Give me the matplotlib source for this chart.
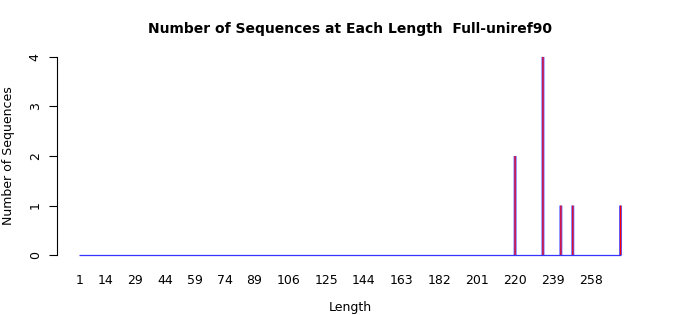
import numpy as np
import matplotlib
matplotlib.use("Agg")
import matplotlib.pyplot as plt

# sequence lengths shown on the x axis (one bar per length)
lengths = np.arange(1, 274)

# lengths that actually have sequences, and how many
hit_lengths = [220, 234, 243, 249, 273]
hit_counts = [2, 4, 1, 1, 1]

tick_labels = [1, 14, 29, 44, 59, 74, 89, 106, 125, 144, 163, 182, 201, 220, 239, 258]

counts = np.zeros(len(lengths))
for l, c in zip(hit_lengths, hit_counts):
    counts[l - 1] = c

bar_w = 0.83

fig = plt.figure(figsize=(7, 3.15), dpi=100)
ax = fig.add_axes([57 / 700, 1 - 263 / 315, (643 - 57) / 700, (263 - 49) / 315])

# empty bars in R show up as a flat blue line along zero
ax.hlines(0, lengths[0] - bar_w / 2, lengths[-1] + bar_w / 2, color="#3535ff", linewidth=0.9)
# blue border, then the red fill on top
ax.bar(lengths, counts, width=1.5, color="#5a5aff", linewidth=0, snap=False)
ax.bar(lengths, counts, width=0.6, color="red", linewidth=0, snap=False)

ax.set_xlim(-10.3, 284.3)
ax.set_ylim(-0.16, 4.16)

for s in ["top", "right", "bottom"]:
    ax.spines[s].set_visible(False)
ax.spines["left"].set_bounds(0, 4)
ax.spines["left"].set_linewidth(0.8)

ax.set_yticks(range(5))
ax.set_yticklabels([str(i) for i in range(5)], rotation=90, va="center", fontsize=9)
ax.tick_params(axis="y", length=6, width=0.8, pad=5)

ax.set_xticks(tick_labels)
ax.set_xticklabels([str(t) for t in tick_labels], fontsize=9)
ax.tick_params(axis="x", length=0, pad=8)

ax.set_xlabel("Length", fontsize=9, labelpad=10)
ax.set_ylabel("Number of Sequences", fontsize=9, labelpad=10)
fig.text(0.5, 1 - 29 / 315, "Number of Sequences at Each Length  Full-uniref90",
         ha="center", va="center", fontsize=10, fontweight="bold")

fig.savefig("out.png", dpi=100)
